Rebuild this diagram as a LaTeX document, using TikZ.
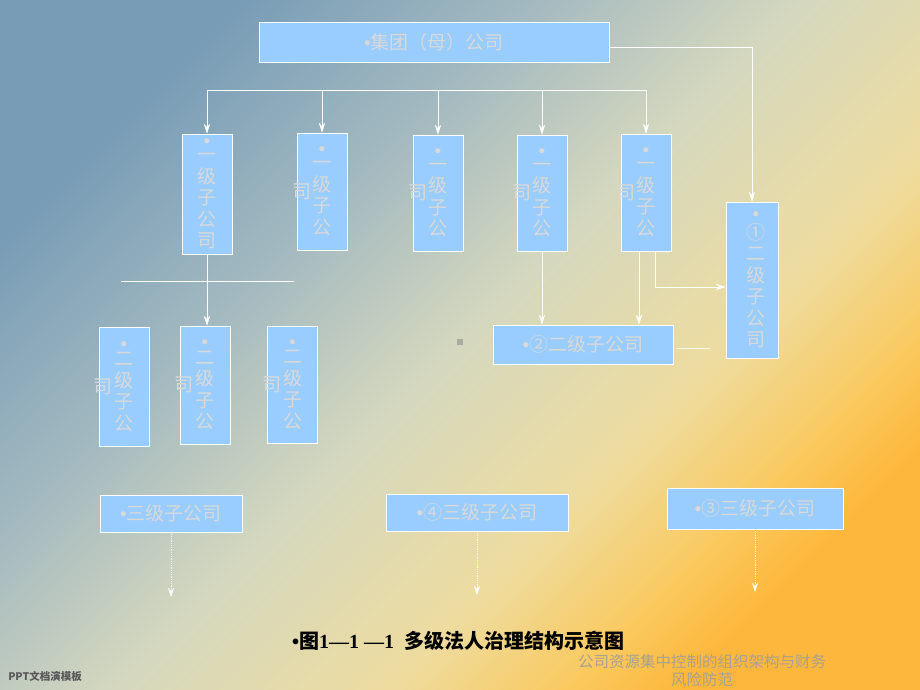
\documentclass[tikz,border=0pt]{standalone}
\usepackage{fontspec}
\setmainfont{Liberation Serif}
\newfontfamily\cjk{Noto Sans CJK SC}
\newfontfamily\latinsans{Liberation Sans}
\usetikzlibrary{arrows.meta}

\definecolor{boxblue}{HTML}{99CCFF}
\definecolor{boxtext}{HTML}{D9D9D9}
\definecolor{foot}{HTML}{A8A090}
\definecolor{sq}{HTML}{A8ACA0}
\definecolor{bg0}{HTML}{789CB6}
\definecolor{bg1}{HTML}{A3B9C0}
\definecolor{bg2}{HTML}{D5D8BE}
\definecolor{bg3}{HTML}{EEDC9F}
\definecolor{bg4}{HTML}{FAC95E}
\definecolor{bg5}{HTML}{FDB73C}
\pgfdeclarehorizontalshading{bgshade}{100bp}{color(0bp)=(bg0); color(25bp)=(bg0); color(38bp)=(bg1); color(50bp)=(bg2); color(62bp)=(bg3); color(70bp)=(bg4); color(75bp)=(bg5); color(100bp)=(bg5)}

\newcommand{\bul}{{\latinsans\textbullet}}

\begin{document}
\begin{tikzpicture}[x=1pt,y=-1pt,>={Stealth[length=10pt,width=6.5pt,inset=3.5pt]}]
        \tikzstyle{every node} = [rectangle]
        \tikzstyle{box} = [draw=white, line width=0.8pt, fill=boxblue, inner sep=0pt, text=boxtext, font=\cjk\fontsize{19}{21.5}\selectfont]
        \tikzstyle{vbox} = [box, align=center, minimum width=50]
        \tikzstyle{tail} = [inner sep=0pt, text=boxtext, font=\cjk\fontsize{19}{21}\selectfont]
        \tikzstyle{link} = [draw=white, line width=0.8pt]
        \tikzstyle{faint} = [draw=white, opacity=0.8, line width=0.8pt, densely dotted]
        % background
        \fill[shading=bgshade, shading angle=-45] (0,0) rectangle (920,690);
        \useasboundingbox (0,0) rectangle (920,690);
        % parent company
        \node[box, minimum width=350, minimum height=40] (jt) at (434,42) {\bul 集团（母）公司};
        % first level
        \node[vbox, minimum height=120] (a1) at (207,194) {\bul\\[-7.5pt]一\\级\\子\\公\\司};
        \foreach \n/\x/\y/\h in {a2/322/191.5/117, a3/438/193/116, a4/542/193/116, a5/646/192.5/117} {
            \node[vbox, minimum height=\h] (\n) at (\x,\y) {\bul\\[-7.5pt]一\\级\\子\\公};
            \node[tail] (s\n) at (\x-20.5,\y) {司};
        }
        % second level
        \foreach \n/\x/\y/\h in {b1/124/386.5/119, b2/205/385/118, b3/292.5/384.5/117} {
            \node[vbox, minimum height=\h] (\n) at (\x,\y) {\bul\\[-6pt]二\\级\\子\\公};
            \node[tail] (s\n) at (\x-21,\y) {司};
        }
        \node[vbox, minimum width=52, minimum height=156] (e1) at (752,280) {\hspace*{8pt}\bul\\[-3pt]\hspace*{8pt}①\\\hspace*{8pt}二\\\hspace*{8pt}级\\\hspace*{8pt}子\\\hspace*{8pt}公\\\hspace*{8pt}司};
        \node[box, minimum width=180, minimum height=39] (e2) at (583,344.5) {\bul②二级子公司};
        % third level
        \node[box, minimum width=142, minimum height=37] (t1) at (171,513.5) {\bul 三级子公司};
        \node[box, minimum width=182, minimum height=37] (t2) at (477,512.5) {\bul④三级子公司};
        \node[box, minimum width=176, minimum height=41] (t3) at (755,508.5) {\bul③三级子公司};
        \node[fill=sq, minimum size=6, inner sep=0pt] (sq) at (460,342) {};

        % connectors
        \coordinate (busL) at (207,90);
        \coordinate (busR) at (646,90);
        \draw[link] (busL) -- (busR);
        \foreach \n in {a1,a2,a3,a4,a5}
            \draw[link,->] (\n.north |- busL) -- (\n.north);
        \draw[link,->] ([yshift=-5]jt.east) -| (e1.north);
        \coordinate (hl) at (121,281);
        \coordinate (hr) at (294,281);
        \draw[link] (hl) -- (hr);
        \draw[link,->] (a1.south) -- (a1.south |- b2.north);
        \draw[link,->] (a4.south) -- (a4.south |- e2.north);
        \draw[link,->] ([xshift=-7]a5.south) -- ([xshift=-7]a5.south |- e2.north);
        \draw[link,->] ([xshift=9]a5.south) |- ([yshift=-7]e1.west);
        \coordinate (stub) at (710,348);
        \draw[link,opacity=0.8] (e2.east) ++(4,3.5) -- (stub);
        \foreach \n/\l in {t1/65, t2/64, t3/63}
            \draw[faint,->] (\n.south) -- ++(0,\l);

        % caption and footer
        \node[font=\fontsize{20}{24}\selectfont\bfseries] (cap) at (458,641) {\bul{\cjk 图}1—1 —1\ \ {\cjk 多级法人治理结构示意图}};
        \node[align=center, text=foot, font=\cjk\fontsize{15.5}{18}\selectfont] (ft) at (702,671) {公司资源集中控制的组织架构与财务\\风险防范};
        \node[text=black!65, font=\cjk\bfseries\fontsize{10.5}{12}\selectfont] (ppt) at (45,676) {PPT文档演模板};
\end{tikzpicture}
\end{document}
